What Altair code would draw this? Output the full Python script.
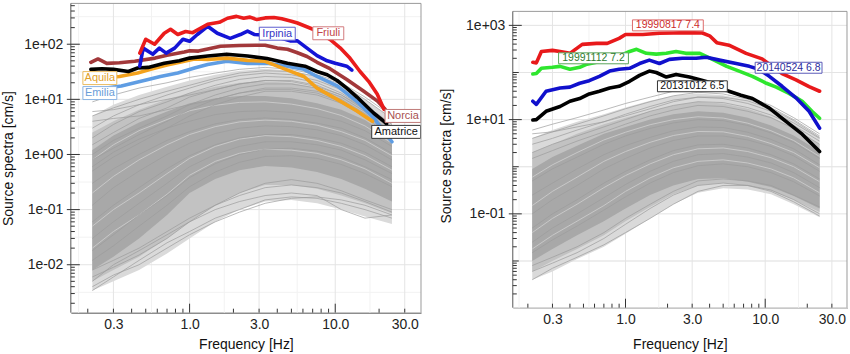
import altair as alt
import pandas as pd

FONT = "Liberation Sans"

# ---------------- data ----------------
GRID_F = [0.215, 0.3, 0.45, 0.7, 1.0, 1.5, 2.2, 3.3, 5.0, 7.5, 11, 16, 24.5]

# left panel (Italian events): envelopes of the gray spectra cloud
L_outer_upper = [5, 8, 12, 17, 22, 28, 33, 36, 33, 26, 18, 10, 4.5]
L_outer_lower = [0.0034, 0.005, 0.008, 0.016, 0.03, 0.06, 0.1, 0.14, 0.15, 0.13, 0.1, 0.075, 0.055]
L_mid_upper = [2.5, 4, 6.5, 10, 13, 17, 20, 21, 20, 16, 11.5, 7, 3.2]
L_mid_lower = [0.005, 0.008, 0.014, 0.03, 0.06, 0.12, 0.2, 0.28, 0.28, 0.24, 0.18, 0.13, 0.085]
L_core_upper = [1.2, 2.2, 3.8, 6, 8.5, 10.5, 11.5, 11.5, 10.5, 8.5, 6.5, 4.2, 2.0]
L_core_lower = [0.008, 0.014, 0.03, 0.08, 0.2, 0.36, 0.52, 0.62, 0.58, 0.48, 0.36, 0.24, 0.14]
L_gray = [
    [9, 12, 16, 20, 25, 30, 35, 38, 35, 28, 20, 11, 5],
    [5, 7, 10, 14, 18, 24, 30, 33, 32, 26, 19, 10, 4.5],
    [3, 5, 8, 12, 16, 22, 27, 30, 28, 22, 15, 8, 3.5],
    [2, 3.5, 6, 9, 13, 18, 23, 26, 25, 20, 13, 7, 3],
    [1.5, 2.5, 4.5, 7, 11, 15, 19, 22, 22, 18, 12, 6.5, 2.8],
    [6, 6.5, 8, 10, 12, 15, 19, 22, 21, 17, 12, 7, 3.2],
    [1.0, 1.8, 3, 5, 8, 12, 16, 19, 19, 16, 11, 6, 2.5],
    [0.8, 1.3, 2.3, 4, 6.5, 10, 13, 16, 16, 14, 10, 5.5, 2.3],
    [4, 4.5, 5, 6.5, 8, 10, 13, 15, 15, 13, 9, 5, 2.2],
    [0.5, 0.9, 1.6, 3, 5, 8, 11, 14, 14, 12, 8.5, 4.8, 2],
    [0.0034, 0.006, 0.012, 0.025, 0.04, 0.07, 0.1, 0.15, 0.17, 0.16, 0.13, 0.1, 0.07],
    [0.004, 0.0065, 0.01, 0.02, 0.035, 0.06, 0.09, 0.13, 0.16, 0.17, 0.15, 0.12, 0.08],
    [0.006, 0.009, 0.015, 0.03, 0.06, 0.1, 0.14, 0.18, 0.2, 0.18, 0.1, 0.07, 0.08],
    [0.008, 0.012, 0.02, 0.04, 0.07, 0.12, 0.18, 0.25, 0.28, 0.25, 0.2, 0.14, 0.09],
    [0.005, 0.01, 0.018, 0.035, 0.06, 0.12, 0.2, 0.3, 0.35, 0.3, 0.22, 0.15, 0.1],
    [0.6, 1.1, 1.9, 3.0, 4.0, 5.3, 6.0, 6.2, 5.8, 5.0, 4.0, 2.7, 1.4],
    [0.3, 0.55, 1.0, 1.8, 2.6, 3.6, 4.3, 4.6, 4.3, 3.7, 3.0, 2.0, 1.05],
    [0.12, 0.25, 0.5, 1.0, 1.6, 2.4, 3.0, 3.3, 3.2, 2.8, 2.2, 1.5, 0.8],
    [0.06, 0.12, 0.25, 0.55, 0.95, 1.5, 2.0, 2.3, 2.3, 2.0, 1.6, 1.1, 0.6],
    [0.03, 0.06, 0.13, 0.3, 0.6, 1.0, 1.4, 1.7, 1.7, 1.5, 1.2, 0.8, 0.45],
    [0.018, 0.035, 0.08, 0.18, 0.38, 0.68, 1.0, 1.25, 1.3, 1.15, 0.9, 0.6, 0.35],
    [0.012, 0.022, 0.05, 0.12, 0.26, 0.48, 0.72, 0.92, 0.95, 0.85, 0.66, 0.45, 0.26],
]
L_light_streaks = [
    [0.8, 1.5, 2.7, 4.3, 6.2, 7.8, 8.8, 9.0, 8.2, 6.8, 5.1, 3.3, 1.6],
    [0.2, 0.4, 0.8, 1.5, 2.3, 3.2, 3.9, 4.2, 4.0, 3.4, 2.6, 1.8, 0.95],
    [0.05, 0.1, 0.2, 0.45, 0.85, 1.4, 1.9, 2.2, 2.1, 1.8, 1.4, 0.95, 0.52],
    [0.02, 0.04, 0.08, 0.19, 0.42, 0.75, 1.05, 1.25, 1.2, 1.05, 0.8, 0.55, 0.3],
]

friuli_f = [0.455, 0.50, 0.575, 0.67, 0.74, 0.83, 0.94, 1.05, 1.33, 1.6, 1.82, 2.1, 2.35, 2.6, 2.9, 3.3,
            3.8, 4.3, 5.0, 5.5, 7.1, 9.2, 10.8, 12.6, 14.8, 17, 19.4, 21.6]
friuli_v = [69, 123, 100, 158, 187, 150, 170, 162, 230, 250, 296, 320, 295, 310, 280, 300,
            305, 290, 262, 243, 185, 122, 86, 56, 32, 21, 12.5, 6.6]
irpinia_f = [0.455, 0.48, 0.56, 0.62, 0.69, 0.79, 0.9, 1.0, 1.13, 1.33, 1.55, 1.9, 2.23, 2.5, 2.8, 3.3,
             4.0, 4.9, 5.5, 6.4, 7.5, 8.8, 10, 10.8, 12, 13]
irpinia_v = [40, 85, 66, 85, 69, 85, 123, 113, 150, 212, 158, 128, 150, 173, 150, 145,
             135, 115, 115, 85, 62, 50, 45, 43, 40, 34]
norcia_f = [0.21, 0.235, 0.27, 0.33, 0.42, 0.58, 0.7, 0.92, 1.0, 1.15, 1.63, 2.2, 3.3, 4.0, 4.7, 5.5,
            6.4, 7.5, 9.2, 12, 15.7, 19.5, 22]
norcia_v = [47, 54, 45, 46, 49, 56, 63, 72, 76, 75, 92, 95, 96, 85, 81, 70,
            60, 47, 36, 23, 14, 9.3, 6.6]
amatrice_f = [0.21, 0.25, 0.3, 0.38, 0.44, 0.52, 0.67, 0.85, 1.0, 1.33, 1.8, 2.5, 3.4, 4.7, 6.2, 7.5,
              8.8, 10.3, 12, 14.1, 16, 18.4, 21.6, 22.5]
amatrice_v = [35, 36, 35, 32, 37, 38, 45, 50, 56, 61, 66, 61, 55, 45, 40, 32,
              28, 22, 16, 11, 8, 5.6, 4, 3.6]
aquila_f = [0.21, 0.27, 0.33, 0.44, 0.54, 0.7, 0.92, 1.08, 1.33, 1.8, 2.5, 3.3, 4.0, 4.9, 6.1, 7.5,
            10.3, 14, 16.6, 18]
aquila_v = [24, 25, 26, 30, 35, 42, 49, 54, 53, 56, 51, 49, 40, 32.5, 26, 16,
            10, 6.2, 4.6, 4.0]
emilia_f = [0.21, 0.27, 0.34, 0.42, 0.52, 0.63, 0.83, 1.08, 1.33, 1.8, 2.5, 3.4, 4.7, 6.1, 7.5, 10.3,
            14, 18.4, 21, 24.5]
emilia_v = [14, 16, 17.5, 20, 23, 26, 30, 37, 43, 49, 45, 45, 40, 35, 26, 17.5,
            9.3, 4.6, 2.9, 1.7]

L_label_text = ["Friuli", "Irpinia", "Norcia", "Amatrice", "Aquila", "Emilia"]
L_label_f = [8.96, 4.0, 29.2, 26.2, 0.242, 0.242]
L_label_v = [158, 155, 5.0, 2.57, 24.3, 13]

# right panel
R_outer_upper = [4, 6, 9, 13, 18, 25, 32, 36, 33, 26, 17, 9.5, 4.2]
R_outer_lower = [0.004, 0.006, 0.011, 0.02, 0.038, 0.08, 0.16, 0.28, 0.35, 0.33, 0.26, 0.16, 0.085]
R_mid_upper = [2, 3, 5, 8, 11, 15, 20, 24, 22, 17, 11.5, 6.5, 3]
R_mid_lower = [0.006, 0.01, 0.018, 0.035, 0.07, 0.14, 0.26, 0.4, 0.45, 0.4, 0.31, 0.2, 0.11]
R_core_upper = [0.9, 1.6, 2.8, 5, 7, 10, 13, 15, 14, 11, 7.5, 4.6, 2.1]
R_core_lower = [0.01, 0.018, 0.035, 0.07, 0.13, 0.25, 0.4, 0.55, 0.57, 0.48, 0.37, 0.24, 0.13]
R_gray = [
    [6, 8, 11, 16, 22, 30, 40, 45, 40, 30, 20, 11, 5],
    [4, 5.5, 8, 12, 17, 24, 32, 38, 35, 27, 18, 10, 4.5],
    [3, 4, 6, 9, 13, 19, 26, 30, 28, 22, 15, 8.5, 4],
    [2, 3, 4.5, 7, 10, 15, 20, 24, 23, 18, 12.5, 7.5, 3.5],
    [1.5, 2.2, 3.5, 5.5, 8, 12, 16, 20, 19, 15, 11, 6.5, 3],
    [5, 5.5, 7, 9, 12, 17, 24, 30, 30, 25, 17, 9.5, 4.2],
    [0.004, 0.007, 0.012, 0.022, 0.04, 0.08, 0.16, 0.3, 0.4, 0.4, 0.32, 0.2, 0.1],
    [0.006, 0.009, 0.015, 0.03, 0.06, 0.13, 0.25, 0.4, 0.45, 0.4, 0.3, 0.18, 0.09],
    [0.008, 0.012, 0.02, 0.04, 0.08, 0.16, 0.3, 0.5, 0.55, 0.5, 0.4, 0.25, 0.14],
    [0.5, 0.9, 1.6, 3.0, 4.5, 6.5, 8.5, 10, 9.5, 7.5, 5.2, 3.3, 1.5],
    [0.25, 0.45, 0.9, 1.8, 2.8, 4.2, 5.8, 7, 6.8, 5.4, 3.8, 2.4, 1.1],
    [0.1, 0.2, 0.4, 0.9, 1.5, 2.5, 3.6, 4.5, 4.5, 3.7, 2.7, 1.7, 0.8],
    [0.05, 0.1, 0.2, 0.45, 0.8, 1.4, 2.2, 2.9, 3.0, 2.5, 1.8, 1.15, 0.55],
    [0.025, 0.05, 0.1, 0.22, 0.42, 0.8, 1.3, 1.8, 1.9, 1.6, 1.2, 0.75, 0.36],
    [0.015, 0.028, 0.055, 0.12, 0.23, 0.45, 0.75, 1.05, 1.15, 1.0, 0.75, 0.48, 0.24],
]
R_light_streaks = [
    [0.6, 1.1, 2.0, 3.7, 5.4, 7.8, 10, 11.5, 10.8, 8.4, 5.8, 3.6, 1.65],
    [0.15, 0.3, 0.6, 1.3, 2.1, 3.3, 4.6, 5.6, 5.5, 4.4, 3.1, 2.0, 0.95],
    [0.04, 0.08, 0.16, 0.36, 0.65, 1.15, 1.8, 2.4, 2.5, 2.1, 1.55, 1.0, 0.48],
    [0.018, 0.035, 0.07, 0.15, 0.3, 0.58, 0.95, 1.3, 1.4, 1.2, 0.9, 0.58, 0.28],
]

e990817_f = [0.217, 0.23, 0.25, 0.30, 0.34, 0.40, 0.49, 0.62, 0.74, 0.9, 1.0, 1.33, 1.75, 2.2, 2.7, 3.55,
             4.0, 4.5, 5.5, 7.3, 9.5, 13.2, 16.6, 20.6, 24.5]
e990817_v = [165, 160, 280, 295, 280, 255, 395, 415, 415, 530, 640, 640, 680, 690, 700, 690,
             600, 430, 380, 255, 195, 95, 70, 50, 40]
e991112_f = [0.217, 0.23, 0.25, 0.30, 0.34, 0.40, 0.47, 0.53, 0.62, 0.8, 0.95, 1.07, 1.2, 1.41, 1.66,
             1.96, 2.3, 2.7, 3.4, 4.2, 5.3, 6.5, 8.1, 10.2, 12, 14.8, 18.4, 21.6, 24.5]
e991112_v = [93, 95, 123, 129, 135, 117, 129, 150, 165, 200, 240, 280, 310, 255, 245,
             255, 280, 255, 255, 190, 135, 107, 83, 59, 49, 36, 24.5, 15, 10.7]
e140524_f = [0.217, 0.23, 0.27, 0.34, 0.40, 0.47, 0.55, 0.65, 0.77, 0.9, 1.07, 1.26, 1.48, 1.75, 2.06,
             2.55, 3.2, 3.8, 4.7, 6.2, 7.7, 9.0, 10.7, 13.2, 16.6, 20.6, 24.5]
e140524_v = [24.5, 21, 40, 47, 49, 59, 67, 83, 107, 117, 123, 155, 183, 155, 190,
             200, 200, 210, 183, 155, 135, 117, 83, 51, 29, 15, 6.6]
e131012_f = [0.217, 0.23, 0.27, 0.34, 0.40, 0.47, 0.55, 0.65, 0.77, 0.9, 1.07, 1.26, 1.48, 1.66, 1.96,
             2.3, 2.87, 3.3, 4.2, 5.5, 6.7, 8.1, 10.7, 14, 18.4, 24.5]
e131012_v = [9.8, 10, 15, 19, 24.5, 28, 35, 40, 47, 51, 65, 87, 107, 100, 80,
             91, 80, 72, 59, 40, 33, 28, 17.5, 9.3, 4.9, 2.1]

R_label_text = ["19990817 7.4", "19991112 7.2", "20140524 6.8", "20131012 6.5"]
R_label_f = [2.01, 0.59, 14.7, 3.01]
R_label_v = [1000, 200, 126, 51]

X_LABELS = [0.3, 1, 3, 10, 30]
X_GRID_MINOR = [0.173, 0.548, 1.73, 5.48, 17.3]
X_TICK_MAJOR = [1, 10]
X_TICK_MINOR = [0.2, 0.3, 0.4, 0.5, 0.6, 0.7, 0.8, 0.9, 2, 3, 4, 5, 6, 7, 8, 9, 20, 30]

L_Y_LABELS = [0.01, 0.1, 1, 10, 100]
L_Y_GRID_MINOR = [0.00316, 0.0316, 0.316, 3.16, 31.6, 316]
R_Y_LABELS = [0.1, 10, 1000]
R_Y_MID = [0.01, 1, 100]
R_Y_GRID_MINOR = [0.001, 0.01, 1, 100]

# ---------------- styling ----------------
L_curve_style = [  # drawing order
    (emilia_f, emilia_v, "#5f9de3"),
    (aquila_f, aquila_v, "#f4a21c"),
    (amatrice_f, amatrice_v, "#000000"),
    (norcia_f, norcia_v, "#a2383a"),
    (irpinia_f, irpinia_v, "#1414d6"),
    (friuli_f, friuli_v, "#ea1c1c"),
]
R_curve_style = [
    (e990817_f, e990817_v, "#e8191b"),
    (e991112_f, e991112_v, "#2ee62e"),
    (e140524_f, e140524_v, "#1010cc"),
    (e131012_f, e131012_v, "#000000"),
]
L_label_style = {  # text colour, border colour, box width
    "Friuli": ("#c2454a", "#d27a7c", 31),
    "Irpinia": ("#3535c6", "#5d5dd0", 36),
    "Norcia": ("#a8514f", "#c07a78", 36),
    "Amatrice": ("#111111", "#333333", 49),
    "Aquila": ("#e2a12a", "#eabb60", 34),
    "Emilia": ("#6a9dd8", "#8ab3e2", 34),
}
R_label_style = {
    "19990817 7.4": ("#cc2b2b", "#dd6a6a", 71),
    "19991112 7.2": ("#2e7b2e", "#5aa55a", 70),
    "20140524 6.8": ("#2b2b9c", "#5a5ab8", 67),
    "20131012 6.5": ("#111111", "#333333", 70),
}
FRAME = "#9a9a9a"
AXIS_LINE = "#555555"


def gray_df(rows):
    recs = []
    for i, r in enumerate(rows):
        for f, v in zip(GRID_F, r):
            recs.append({"f": f, "v": v, "id": i})
    return pd.DataFrame(recs)


def make_panel(W, H, top, xdom, ydom, ytick_max, ylabels, ygrid_minor, ymid_ticks,
               bands, gray_rows, streaks, curves, ltext, lf, lv, lstyle, lfs, box_h, ytp, xtp):
    xs = alt.Scale(type="log", domain=xdom, nice=False)
    ys = alt.Scale(type="log", domain=ydom, nice=False)
    xaxis = alt.Axis(values=X_LABELS, format=".1f", title="Frequency [Hz]", labelFlush=False,
                     labelPadding=5, titlePadding=xtp)
    yaxis = alt.Axis(values=ylabels, title="Source spectra [cm/s]", labelFlush=False, domain=False,
                     labelExpr="'1e' + (datum.value >= 1 ? '+0' : '-0') + abs(round(log(datum.value)/LN10))",
                     labelPadding=8, titlePadding=ytp)

    def X(field):
        return alt.X(field, type="quantitative", scale=xs, axis=xaxis)

    def Y(field):
        return alt.Y(field, type="quantitative", scale=ys, axis=yaxis)

    layers = []
    # grid
    layers.append(alt.Chart(pd.DataFrame({"g": X_GRID_MINOR})).mark_rule(color="#f2f2f2", strokeWidth=1).encode(
        x=X("g"), y=alt.value(top), y2=alt.value(H)))
    layers.append(alt.Chart(pd.DataFrame({"g": ygrid_minor})).mark_rule(color="#f2f2f2", strokeWidth=1).encode(y=Y("g")))
    layers.append(alt.Chart(pd.DataFrame({"g": X_LABELS})).mark_rule(color="#e4e4e4", strokeWidth=1).encode(
        x=X("g"), y=alt.value(top), y2=alt.value(H)))
    layers.append(alt.Chart(pd.DataFrame({"g": ylabels + ymid_ticks})).mark_rule(color="#e4e4e4", strokeWidth=1).encode(y=Y("g")))
    # gray spectra cloud: nested density bands
    for up, lo, col in bands:
        band = pd.DataFrame({"f": GRID_F, "hi": up, "lo": lo})
        layers.append(alt.Chart(band).mark_area(color=col, opacity=1).encode(x=X("f"), y=Y("lo"), y2="hi"))
    layers.append(alt.Chart(gray_df(streaks)).mark_line(color="#cbcbcb", strokeWidth=0.9).encode(
        x=X("f"), y=Y("v"), detail="id:N"))
    layers.append(alt.Chart(gray_df(gray_rows)).mark_line(color="#9c9c9c", strokeWidth=0.7).encode(
        x=X("f"), y=Y("v"), detail="id:N"))
    # highlighted spectra
    for f, v, col in curves:
        layers.append(alt.Chart(pd.DataFrame({"f": f, "v": v})).mark_line(
            color=col, strokeWidth=3.6, strokeCap="round", strokeJoin="round").encode(x=X("f"), y=Y("v")))
    # labels
    recs = []
    for t, f, v in zip(ltext, lf, lv):
        tc, bc, w = lstyle[t]
        r = box_h / w
        recs.append({"f": f, "v": v, "t": t, "tc": tc, "bc": bc, "size": w * w,
                     "shape": f"M-1,-{r:.4f}L1,-{r:.4f}L1,{r:.4f}L-1,{r:.4f}Z"})
    ldf = pd.DataFrame(recs)
    layers.append(alt.Chart(ldf).mark_point(filled=True, fill="white", opacity=1, strokeWidth=1, clip=True).encode(
        x=X("f"), y=Y("v"), shape=alt.Shape("shape:N", scale=None), size=alt.Size("size:Q", scale=None),
        stroke=alt.Stroke("bc:N", scale=None)))
    layers.append(alt.Chart(ldf).mark_text(font=FONT, fontSize=lfs, clip=True).encode(
        x=X("f"), y=Y("v"), text="t:N", color=alt.Color("tc:N", scale=None)))
    # frame
    layers.append(alt.Chart(pd.DataFrame({"a": [0]})).mark_rule(color=FRAME, strokeWidth=1).encode(
        x=alt.value(0), x2=alt.value(W), y=alt.value(top)))
    layers.append(alt.Chart(pd.DataFrame({"a": [0]})).mark_rule(color=FRAME, strokeWidth=1).encode(
        x=alt.value(W), y=alt.value(top), y2=alt.value(H)))
    layers.append(alt.Chart(pd.DataFrame({"a": [0]})).mark_rule(color=AXIS_LINE, strokeWidth=1).encode(
        x=alt.value(0), y=alt.value(top), y2=alt.value(H)))
    # inward ticks
    layers.append(alt.Chart(pd.DataFrame({"t": X_TICK_MINOR})).mark_rule(color="#333", strokeWidth=1).encode(
        x=X("t"), y=alt.value(H), y2=alt.value(H - 4)))
    layers.append(alt.Chart(pd.DataFrame({"t": X_TICK_MAJOR})).mark_rule(color="#333", strokeWidth=1).encode(
        x=X("t"), y=alt.value(H), y2=alt.value(H - 9)))
    yminor = [m * 10.0 ** e for e in range(-3, 4) for m in range(2, 10)
              if ydom[0] < m * 10.0 ** e < ytick_max]
    layers.append(alt.Chart(pd.DataFrame({"t": yminor})).mark_rule(color="#333", strokeWidth=1).encode(
        y=Y("t"), x=alt.value(0), x2=alt.value(4)))
    if ymid_ticks:
        layers.append(alt.Chart(pd.DataFrame({"t": ymid_ticks})).mark_rule(color="#333", strokeWidth=1).encode(
            y=Y("t"), x=alt.value(0), x2=alt.value(6)))
    layers.append(alt.Chart(pd.DataFrame({"t": ylabels})).mark_rule(color="#333", strokeWidth=1).encode(
        y=Y("t"), x=alt.value(-4), x2=alt.value(9)))
    return alt.layer(*layers).properties(width=W, height=H, view=alt.ViewBackground(stroke=None))


left = make_panel(351, 310, 0, [0.153, 38.8], [0.00135, 550], 550, L_Y_LABELS, L_Y_GRID_MINOR, [],
                  [(L_outer_upper, L_outer_lower, "#dadada"), (L_mid_upper, L_mid_lower, "#c2c2c2"),
                   (L_core_upper, L_core_lower, "#a8a8a8")],
                  L_gray, L_light_streaks, L_curve_style, L_label_text, L_label_f, L_label_v, L_label_style,
                  11, 13, 8, 6)
right = make_panel(335, 305, 8, [0.156, 38.5], [0.00102, 2925], 1990, R_Y_LABELS, R_Y_GRID_MINOR, R_Y_MID,
                   [(R_outer_upper, R_outer_lower, "#dadada"), (R_mid_upper, R_mid_lower, "#c2c2c2"),
                    (R_core_upper, R_core_lower, "#a8a8a8")],
                   R_gray, R_light_streaks, R_curve_style, R_label_text, R_label_f, R_label_v, R_label_style,
                   10.5, 11, 12, 11)

chart = alt.hconcat(left, right, spacing=17).properties(
    padding={"left": 1, "top": 2, "right": 2, "bottom": 0}
).configure_axis(
    labelFont=FONT, titleFont=FONT, labelFontSize=14, titleFontSize=14, titleFontWeight="normal",
    labelColor="#222222", titleColor="#111111", domainColor=AXIS_LINE, ticks=False, grid=False
)

chart.save("out.html", embed_options={"renderer": "svg", "actions": False})
